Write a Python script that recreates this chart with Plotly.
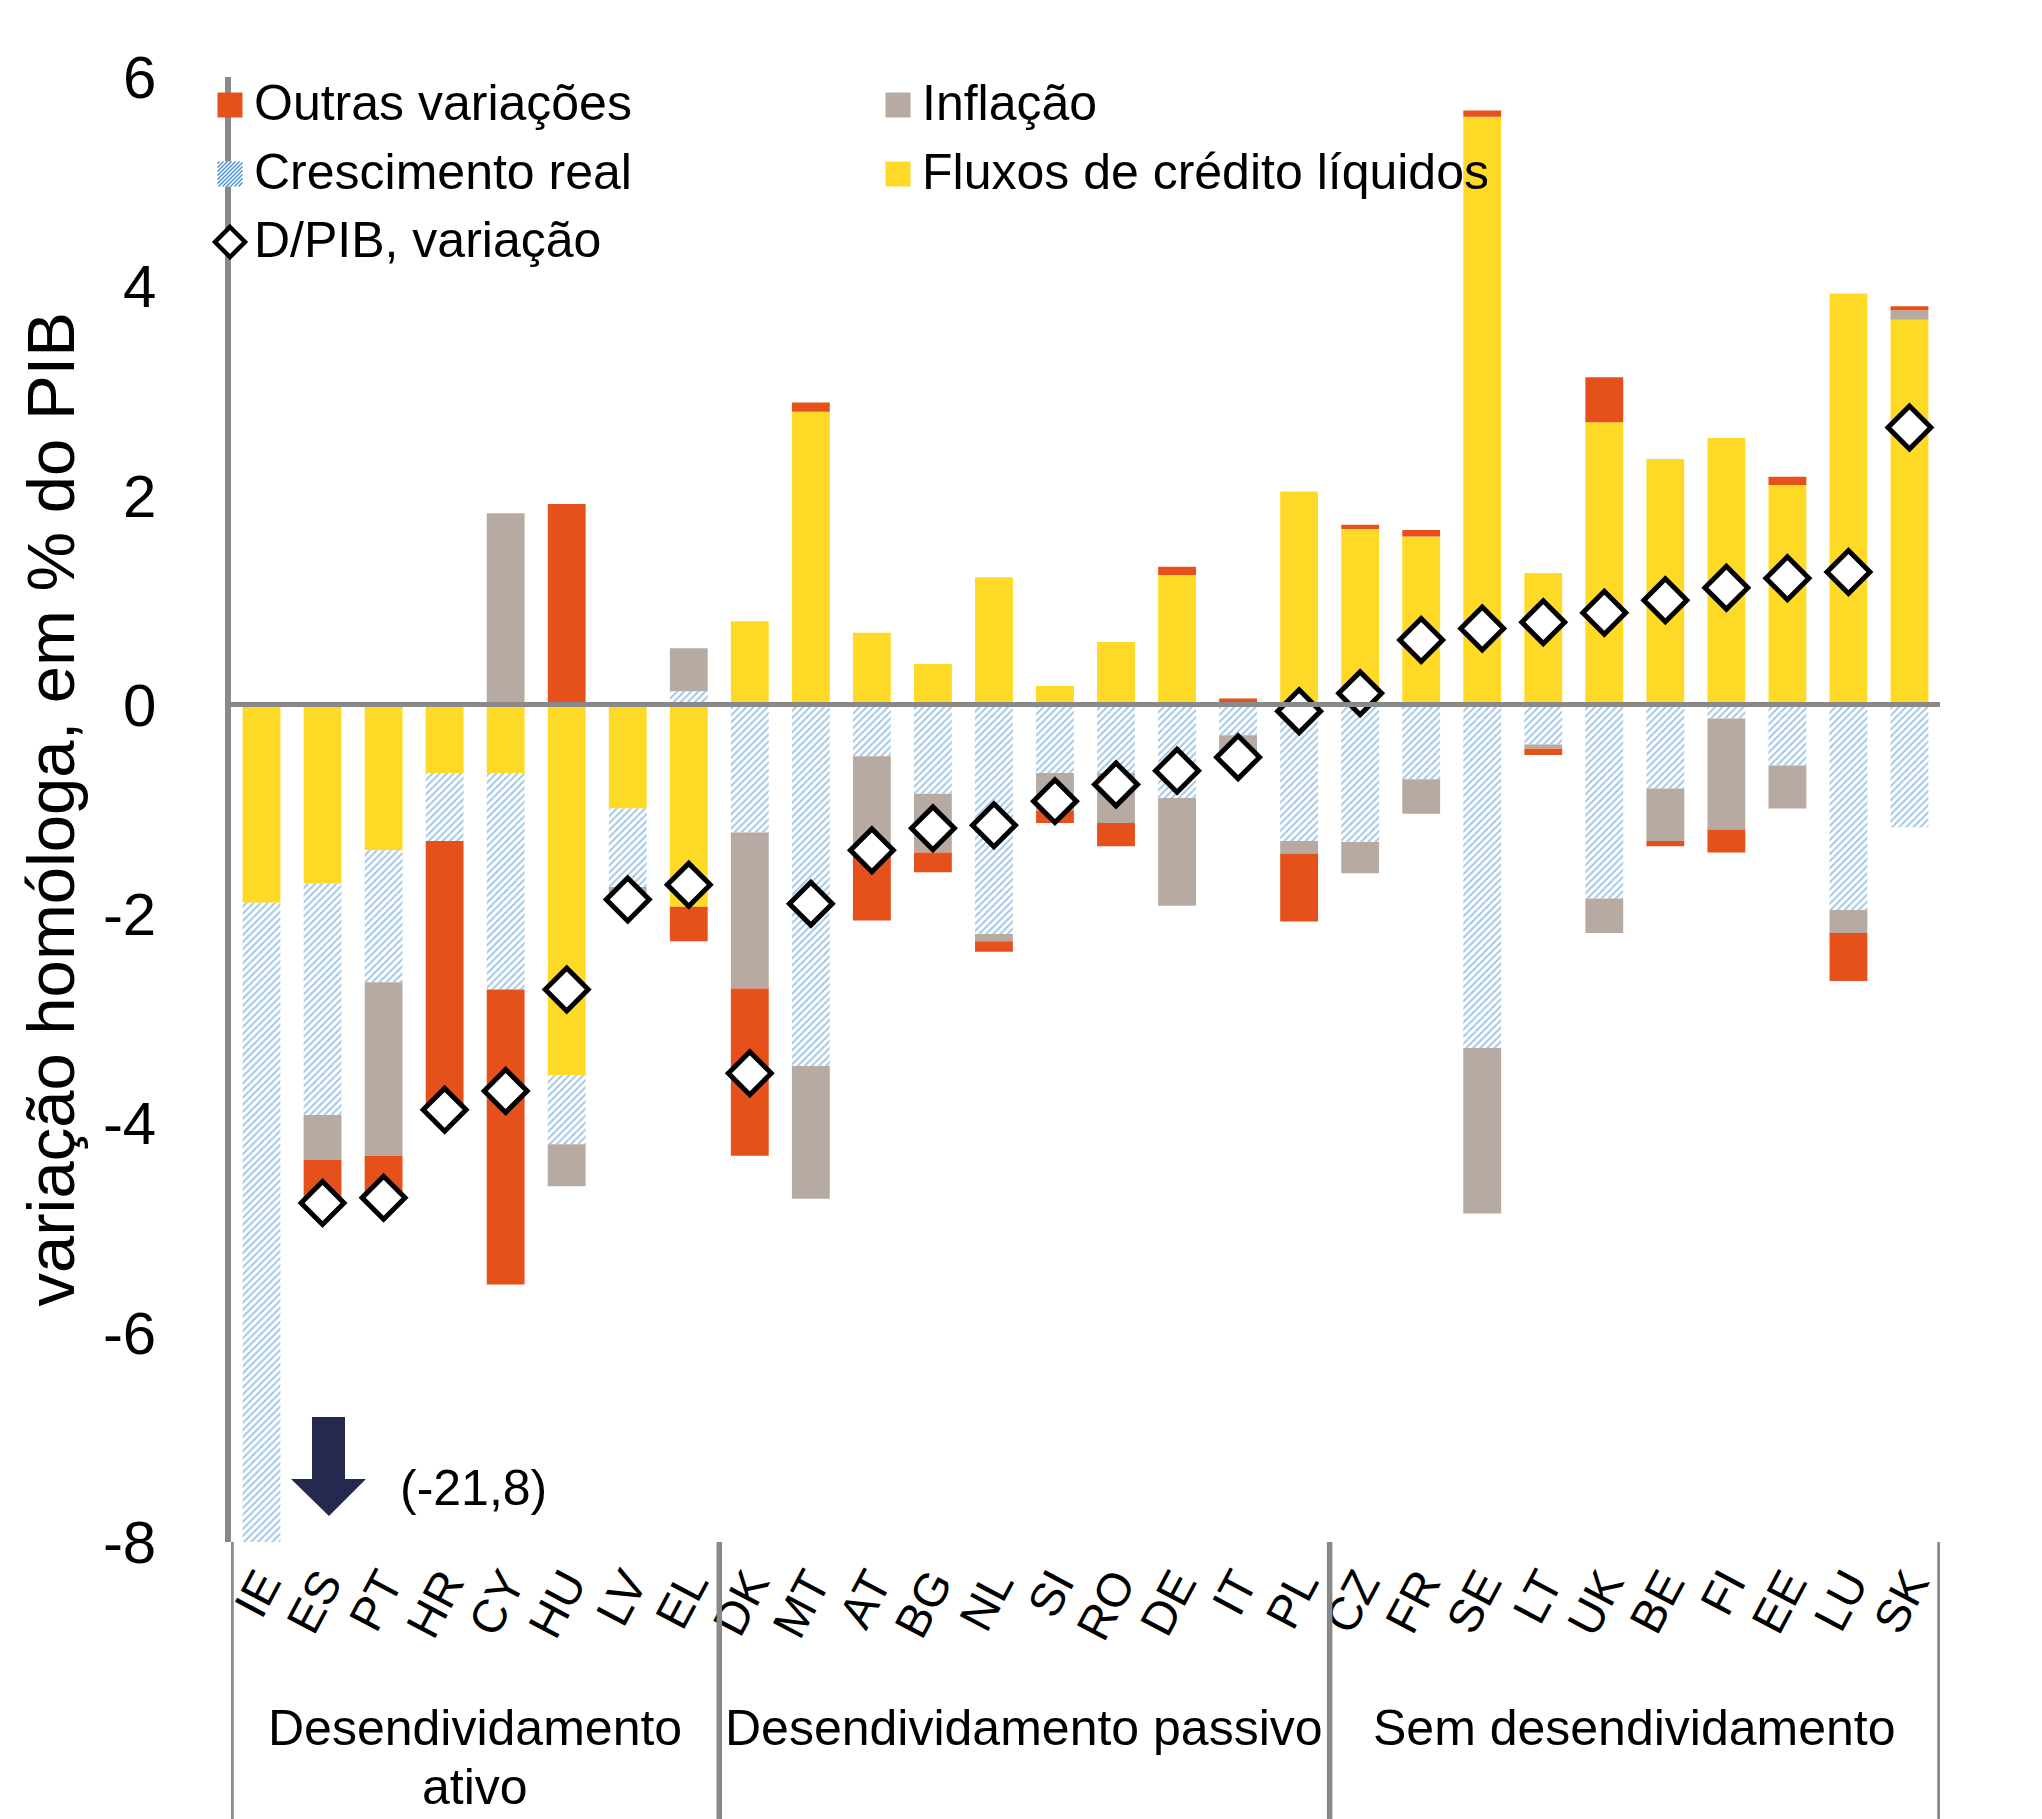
import plotly.graph_objects as go

countries = ["IE", "ES", "PT", "HR", "CY", "HU", "LV", "EL",
             "DK", "MT", "AT", "BG", "NL", "SI", "RO", "DE", "IT", "PL",
             "CZ", "FR", "SE", "LT", "UK", "BE", "FI", "EE", "LU", "SK"]

# componentes (p.p. do PIB)
fluxos = [-1.89, -1.71, -1.39, -0.65, -0.65, -3.54, -0.99, -1.93,
          0.80, 2.80, 0.69, 0.39, 1.22, 0.18, 0.60, 1.24, 0.02, 2.04,
          1.68, 1.61, 5.62, 1.26, 2.70, 2.35, 2.55, 2.10, 3.93, 3.68]
crescimento = [-19.9, -2.21, -1.26, -0.65, -2.07, -0.66, -0.75, 0.13,
               -1.22, -3.45, -0.49, -0.85, -2.19, -0.65, -0.65, -0.89, -0.29, -1.30,
               -1.31, -0.71, -3.28, -0.38, -1.85, -0.80, -0.13, -0.58, -1.96, -1.17]
inflacao = [0.0, -0.43, -1.66, 0.0, 1.83, -0.40, -0.12, 0.41,
            -1.49, -1.27, -0.94, -0.56, -0.07, -0.36, -0.48, -1.03, -0.27, -0.12,
            -0.30, -0.33, -1.58, -0.04, -0.33, -0.50, -1.06, -0.41, -0.22, 0.09]
outras = [0.0, -0.41, -0.40, -2.57, -2.82, 1.92, 0.0, -0.33,
          -1.60, 0.09, -0.63, -0.19, -0.10, -0.12, -0.22, 0.08, 0.04, -0.65,
          0.04, 0.06, 0.06, -0.06, 0.43, -0.05, -0.22, 0.08, -0.46, 0.04]
dpib = [-21.8, -4.76, -4.71, -3.87, -3.69, -2.72, -1.86, -1.72,
        -3.52, -1.90, -1.39, -1.18, -1.15, -0.92, -0.76, -0.63, -0.50, -0.06,
        0.11, 0.62, 0.73, 0.79, 0.88, 1.00, 1.12, 1.21, 1.27, 2.65]

group_names = [["Desendividamento", "ativo"], ["Desendividamento passivo"],
               ["Sem desendividamento"]]
group_sizes = [8, 10, 10]

y_ticks = [-8, -6, -4, -2, 0, 2, 4, 6]
y_labels = ["-8", "-6", "-4", "-2", "0", "2", "4", "6"]

series_names = ["Outras variações", "Inflação", "Crescimento real",
                "Fluxos de crédito líquidos", "D/PIB, variação"]
off_scale_label = "(-21,8)"

YELLOW = "#FED925"
ORANGE = "#E6511B"
GREY = "#B7AAA2"
BLUE = "#3D8BD0"
AXIS = "#898989"
NAVY = "#26294F"
FONT = "Arial, Liberation Sans, sans-serif"

# posições na página (o body do html tem 8px de margem)
PAGE_W, PAGE_H, OFF = 2042, 1819, 8
L, R, T, B = 231, 1940, 77, 1542
W, H = PAGE_W - OFF, PAGE_H - OFF


def px_x(px):
    return (px - L) / (R - L)


def px_y(py):
    return (B - py) / (B - T)


def path_of(pts):
    return "M " + " L ".join(f"{px_x(a):.5f},{px_y(b):.5f}" for a, b in pts) + " Z"


x = list(range(len(countries)))
hatch = dict(shape="/", fgcolor=BLUE, bgcolor="white", size=5, solidity=0.38)

fig = go.Figure()
fig.add_trace(go.Bar(x=x, y=fluxos, name=series_names[3], marker_color=YELLOW,
                     marker_line_width=0, width=0.62))
fig.add_trace(go.Bar(x=x, y=crescimento, name=series_names[2],
                     marker=dict(color="white", pattern=hatch, line_width=0), width=0.62))
fig.add_trace(go.Bar(x=x, y=inflacao, name=series_names[1], marker_color=GREY,
                     marker_line_width=0, width=0.62))
fig.add_trace(go.Bar(x=x, y=outras, name=series_names[0], marker_color=ORANGE,
                     marker_line_width=0, width=0.62))
fig.add_trace(go.Scatter(x=x, y=dpib, name=series_names[4], mode="markers",
                         marker=dict(symbol="diamond", size=33, color="white",
                                     line=dict(color="black", width=5))))

fig.update_layout(
    width=W, height=H, autosize=False,
    margin=dict(l=L - OFF, r=W - (R - OFF), t=T - OFF, b=H - (B - OFF), pad=0),
    barmode="relative",
    showlegend=False,
    plot_bgcolor="white", paper_bgcolor="white",
    font=dict(family=FONT, size=50, color="black"),
)
fig.update_xaxes(range=[-0.5, 27.5], tickvals=x, ticktext=countries, tickangle=-62,
                 tickfont=dict(size=47), ticks="", showline=False, showgrid=False,
                 zeroline=False, ticklabelstandoff=4)
fig.update_yaxes(range=[-8, 6], tickvals=y_ticks, ticktext=y_labels, ticks="",
                 showgrid=False, showline=True, linecolor=AXIS, linewidth=5.5,
                 zeroline=True, zerolinecolor=AXIS, zerolinewidth=5,
                 ticklabelstandoff=57, tickfont=dict(size=60))
try:
    fig.update_yaxes(zerolinelayer="above traces")
except ValueError:
    fig.add_shape(type="line", xref="x", yref="y", x0=-0.5, x1=27.5, y0=0, y1=0,
                  line=dict(color=AXIS, width=5), layer="above")

# eixo esquerdo prolongado e separadores dos grupos
bottom = px_y(PAGE_H)
fig.add_shape(type="line", xref="x", yref="paper", x0=-0.5, x1=-0.5, y0=bottom, y1=0,
              line=dict(color=AXIS, width=5.5))
start = 0
for lines, n in zip(group_names, group_sizes):
    end = start + n
    fig.add_shape(type="line", xref="x", yref="paper", x0=end - 0.5, x1=end - 0.5,
                  y0=bottom, y1=0, line=dict(color=AXIS, width=5.5))
    for i, txt in enumerate(lines):
        fig.add_annotation(x=(start + end - 1) / 2, xref="x", y=px_y(1728 + 59 * i),
                           yref="paper", text=txt, showarrow=False, yanchor="middle",
                           xanchor="center", font=dict(size=50))
    start = end

# titulo do eixo
fig.add_annotation(x=px_x(50), xref="paper", y=0.5, yref="paper",
                   text="variação homóloga, em % do PIB", textangle=-90,
                   showarrow=False, xanchor="center", yanchor="middle",
                   font=dict(size=67))

# seta do valor fora de escala (IE)
arrow = [(312, 1417), (345, 1417), (345, 1479), (366, 1479), (329, 1516),
         (291, 1479), (312, 1479)]
fig.add_shape(type="path", xref="paper", yref="paper", fillcolor=NAVY, line_width=0,
              path=path_of(arrow))
fig.add_annotation(x=px_x(398), xref="paper", y=px_y(1488), yref="paper",
                   text=off_scale_label, showarrow=False, xanchor="left", yanchor="middle",
                   font=dict(size=50))

# legenda desenhada à mão (quadrados maiores que os da legenda do plotly)
col_x = [230, 898]
row_y = [105, 174, 242]
items = [(series_names[0], 0, 0, ORANGE), (series_names[1], 1, 0, GREY),
         (series_names[2], 0, 1, "hatch"), (series_names[3], 1, 1, YELLOW),
         (series_names[4], 0, 2, "diamond")]
s = 25
for label, c, r, kind in items:
    cx, cy = col_x[c], row_y[r]
    if kind == "diamond":
        d = 15
        fig.add_shape(type="path", xref="paper", yref="paper", fillcolor="white",
                      line=dict(color="black", width=4.5),
                      path=path_of([(cx, cy - d), (cx + d, cy), (cx, cy + d), (cx - d, cy)]))
    elif kind == "hatch":
        x0, y0 = cx - s / 2, cy - s / 2
        segs = []
        k = x0 + y0 + 2
        while k < x0 + y0 + 2 * s:
            xa = max(x0, k - y0 - s)
            xb = min(x0 + s, k - y0)
            segs.append(f"M {px_x(xa):.5f},{px_y(k - xa):.5f} L {px_x(xb):.5f},{px_y(k - xb):.5f}")
            k += 4
        fig.add_shape(type="rect", xref="paper", yref="paper", fillcolor="white", line_width=0,
                      x0=px_x(x0), x1=px_x(x0 + s), y0=px_y(y0 + s), y1=px_y(y0))
        fig.add_shape(type="path", xref="paper", yref="paper", path=" ".join(segs),
                      line=dict(color=BLUE, width=1.3))
    else:
        fig.add_shape(type="rect", xref="paper", yref="paper", fillcolor=kind, line_width=0,
                      x0=px_x(cx - s / 2), x1=px_x(cx + s / 2),
                      y0=px_y(cy + s / 2), y1=px_y(cy - s / 2))
    fig.add_annotation(x=px_x(cx + 22), xref="paper", y=px_y(cy - 2), yref="paper",
                       text=label, showarrow=False, xanchor="left", yanchor="middle",
                       font=dict(size=50))

fig.write_html("out.html")
